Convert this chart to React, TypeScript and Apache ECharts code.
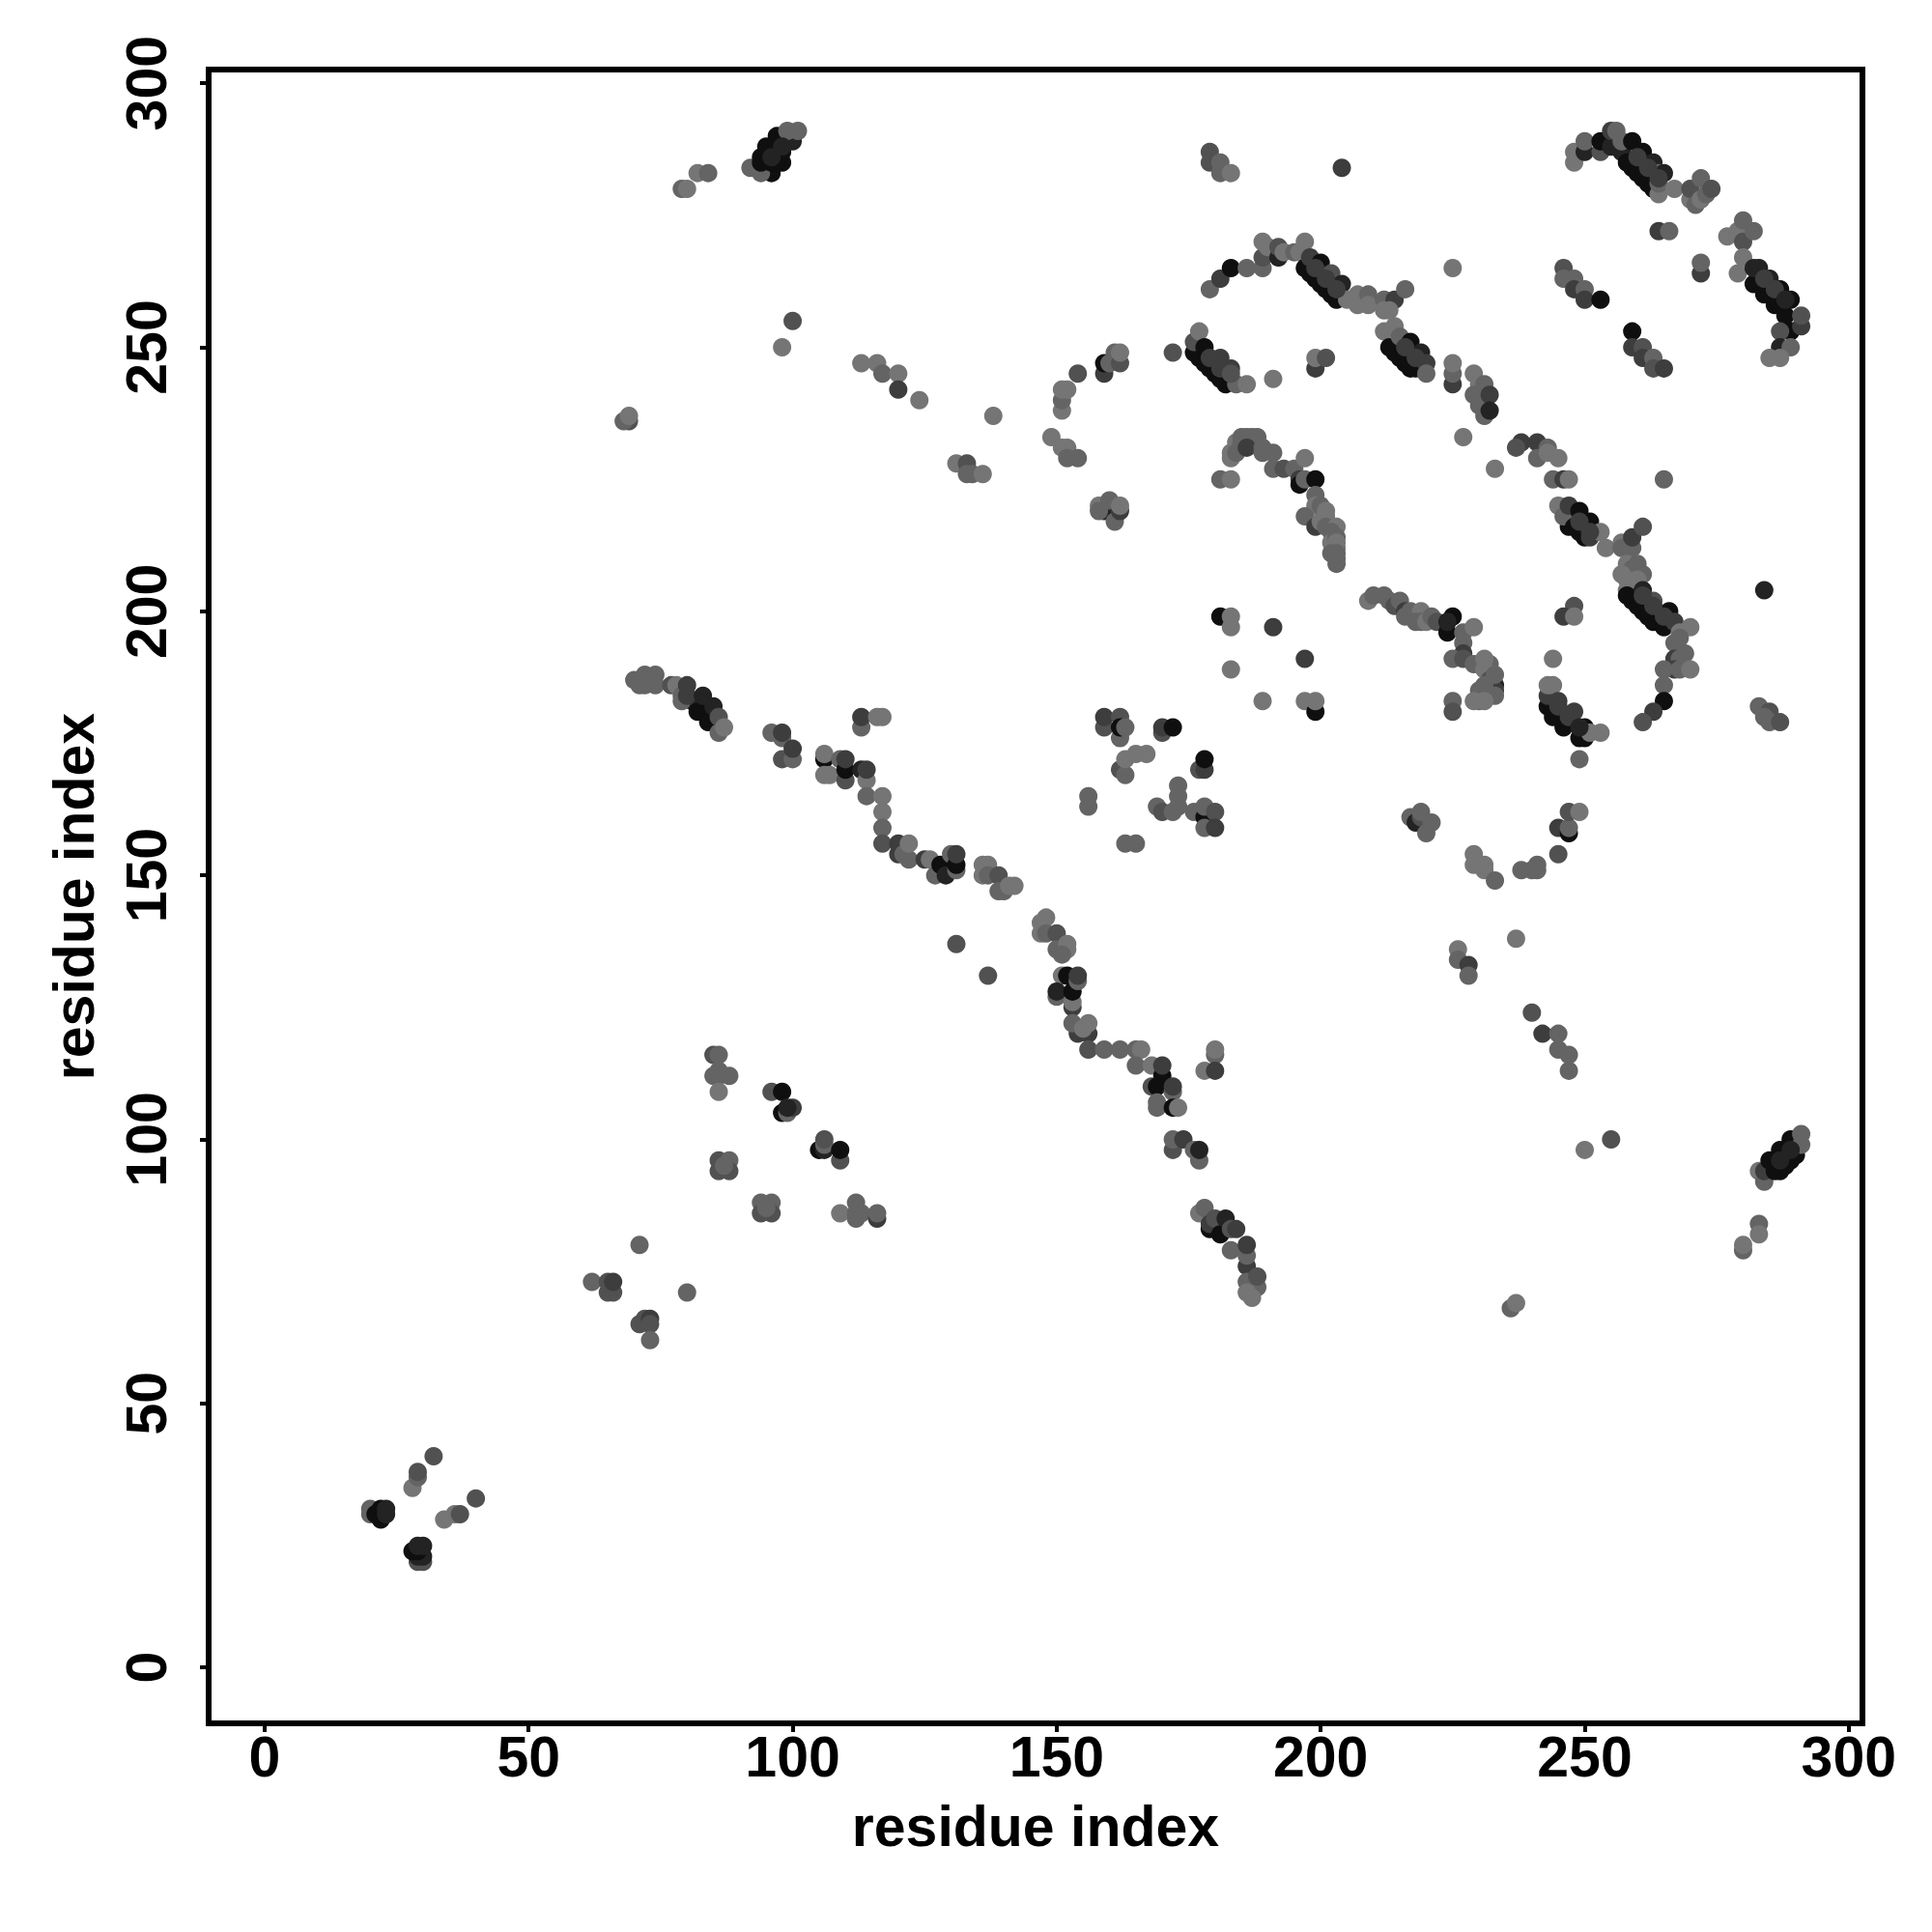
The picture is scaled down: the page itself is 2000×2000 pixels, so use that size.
import React, { useEffect, useRef } from "react";
import * as echarts from "echarts";

const tickValues = [0, 50, 100, 150, 200, 250, 300];
const axisTitle = "residue index";
const shades = ["#0f0f0f", "#232323", "#3d3d3d", "#515151", "#646464", "#757575"];

// [residue x, residue y, shade rank 1 (strongest) .. 6 (weakest)], in drawing order
const denseBandFill = [
  [259,284,1],[261,282,1],[263,280,1],[256,289,3],[257,287,2],
  [283,262,2],[285,260,1],[287,258,1],
  [198,264,1],[200,262,1],[202,260,1],
  [214,249,1],[216,247,1],[218,246,2],
  [177,248,1],[179,246,1],[181,244,1],
  [247,216,1],[249,215,1],
  [259,202,1],[261,200,1],[263,198,1],
  [250,176,1],[245,181,2],[247,179,2],
  [98,285,1],[96,283,1],
  [285,94,1],[287,94,1],[289,96,1],
  [81,183,2],[83,181,1],[85,180,3],
];
const nTerminal = [
  [20,30,5],[20,29,5],[21,29,1],[22,28,1],[22,30,1],[23,30,2],[23,29,2],
  [29,20,4],[30,20,4],[29,21,2],[30,21,2],[28,22,1],[29,22,1],[29,23,2],[30,23,2],
  [28,34,6],[29,36,5],[29,37,4],[32,40,4],[34,28,6],[36,29,6],[37,29,4],[40,32,4],
];
const lowerLeft = [
  [62,73,5],[65,71,4],[66,71,4],[65,73,4],[66,73,3],[71,80,5],[80,71,5],
  [71,65,4],[72,66,4],[73,66,3],[73,65,4],[73,62,5],
];
const block85 = [
  [85,116,4],[86,116,5],[85,112,5],[86,112,5],[88,112,5],[86,113,5],[86,109,6],
  [96,109,4],[98,109,1],[98,105,1],[99,105,5],[100,106,3],[99,106,2],
  [105,98,1],[106,98,2],[106,99,5],[106,100,4],[109,96,4],[109,98,1],
  [86,96,4],[88,96,5],[86,94,4],[88,94,4],[87,95,5],
  [94,88,5],[96,88,5],[94,86,4],[96,86,4],[95,87,5],
  [109,86,6],[112,88,5],[112,85,5],[112,86,5],[113,86,5],[116,85,3],[116,86,5],
];
const diagonalHigh = [
  [70,187,5],[71,186,5],[72,188,5],[74,188,5],[72,186,5],[73,187,5],[74,186,5],
  [77,186,4],[78,186,6],[79,183,5],[79,184,5],[82,181,1],[84,179,1],[80,184,3],[80,186,3],
  [83,184,2],[85,182,2],[86,177,5],[86,180,4],[87,178,6],
  [96,177,5],[98,176,5],[98,177,3],[98,172,4],[100,172,5],[100,174,3],
  [113,178,5],[113,180,3],[116,180,6],[117,180,6],
  [106,172,1],[106,173,6],[106,169,6],[107,169,6],[109,172,5],[110,168,4],[110,170,1],[110,172,3],
  [113,170,2],[114,168,6],[114,165,5],[114,170,3],[117,165,6],[117,162,6],[117,159,5],[117,156,4],
  [120,154,3],[120,156,3],[121,154,5],[122,153,5],[122,156,6],
  [125,153,3],[126,153,6],[127,150,5],[128,152,1],[129,150,2],[131,151,5],[130,154,5],[131,152,1],[131,154,3],
  [131,137,4],[137,131,4],
  [136,150,6],[136,152,6],[137,152,6],[137,150,5],[139,150,4],[139,147,5],[140,147,5],[141,148,6],[142,148,6],
  [147,139,6],[147,141,6],[148,142,6],[148,139,5],[150,139,4],[150,136,5],[152,136,6],[152,137,6],[151,135,5],
];
const diagonalLow = [
  [151,131,6],[152,131,1],[150,127,5],[150,128,2],[153,125,3],[153,126,6],[153,128,1],[154,130,5],[154,131,3],
  [154,120,3],[156,120,3],[153,122,5],[155,121,6],[156,122,6],
  [156,117,4],[159,117,5],[162,117,5],[165,117,5],[166,117,6],[165,114,5],[168,114,6],[170,112,1],[170,114,3],
  [168,110,4],[169,110,1],[172,109,5],[172,110,3],[169,106,5],[169,107,5],[172,106,1],[173,106,6],
  [172,98,4],[172,100,5],[174,100,3],[176,98,5],[177,96,5],[177,98,2],
  [180,116,5],[180,117,6],[178,113,6],[180,113,3],
  [177,86,6],[178,87,5],[179,83,1],[179,84,3],[180,85,4],[181,82,1],[183,79,5],[182,85,2],[183,83,4],[184,83,3],
  [186,76,3],[186,78,5],[186,80,3],[186,73,5],[188,72,5],[188,74,4],[186,71,6],[187,70,6],
];
const centerPatch = [
  [156,163,5],[156,165,5],[159,178,4],[159,180,3],[162,176,5],[162,180,4],[162,178,1],[163,178,5],
  [162,170,4],[163,169,5],[163,172,6],[165,173,6],[167,173,6],
  [170,177,4],[170,178,3],[172,178,1],[177,170,4],[178,170,3],[178,172,1],
  [173,165,5],[173,167,5],[169,163,5],[170,162,4],[172,162,5],[173,163,5],
  [176,162,5],[178,161,1],[178,163,5],[180,162,4],[178,159,5],[180,159,3],
  [163,156,5],[165,156,5],
];
const farLower = [
  [217,161,5],[218,160,2],[219,161,4],[219,162,5],[220,158,5],[221,160,5],
  [245,159,3],[247,158,1],[247,159,5],[247,162,4],[249,162,6],[245,154,4],
  [229,154,6],[229,152,6],[231,152,6],[231,151,6],[233,149,5],
  [238,151,5],[240,151,5],[241,152,5],[241,151,5],
  [237,138,6],[226,136,6],[226,134,5],[228,133,3],[228,131,5],
  [240,124,4],[242,120,3],[245,120,5],[245,117,5],[247,116,5],[247,113,5],
  [250,98,6],[255,100,4],[236,68,5],[237,69,6],
];
const cTerminal = [
  [283,94,6],[284,92,5],[284,94,3],[285,96,1],[286,94,1],[287,98,1],[288,95,1],[289,100,1],[290,97,1],[291,99,5],[291,101,5],
  [283,84,5],[283,82,6],[280,79,5],[280,80,6],
];
const topLeft = [
  [79,280,5],[80,280,6],[82,283,6],[84,283,5],
  [92,284,5],[94,283,5],[94,285,1],[94,286,1],[96,285,1],[95,288,1],[98,287,1],[97,290,1],[100,289,2],[99,291,5],[101,291,5],
  [100,255,4],[98,250,6],[113,247,6],[116,247,6],[117,245,5],[120,245,6],[120,242,3],[124,240,6],
  [138,237,6],[69,236,4],[68,236,5],[69,237,6],
  [131,228,6],[133,228,4],[133,226,5],[134,226,5],[136,226,6],
  [149,233,6],[151,231,6],[152,231,6],[152,229,5],[154,229,5],
  [151,238,6],[151,240,5],[151,242,6],[152,242,6],[154,245,4],
  [159,245,3],[159,247,1],[160,247,5],[161,249,5],[162,247,4],[162,249,6],
  [158,220,6],[159,219,2],[160,221,5],[158,219,5],[161,217,5],[162,219,3],[162,220,6],
];
const arcOne = [
  [179,287,4],[179,285,4],[181,285,5],[181,283,5],[183,283,6],[204,284,3],
  [179,261,5],[181,263,3],[183,265,1],[186,265,5],[189,265,5],[189,267,4],[189,270,6],[190,269,6],[192,267,2],[192,269,4],
  [193,268,6],[195,268,5],[196,268,6],[197,270,6],
  [197,265,1],[199,263,1],[201,261,1],[203,259,1],[198,267,3],[200,266,1],[202,264,4],[204,262,2],
  [205,259,6],[207,260,6],[207,258,6],[209,260,5],[209,258,6],[212,259,5],[212,257,6],[214,259,3],[216,261,5],[213,257,6],
];
const helixBand = [
  [212,253,6],[214,254,6],[213,250,1],[215,248,1],[217,246,1],[215,252,5],[217,251,1],[219,249,2],[220,247,3],[220,245,5],
  [225,243,3],[225,245,5],[225,247,6],[225,265,6],
  [229,245,6],[230,243,6],[229,241,5],[231,243,5],[231,237,5],[230,239,5],[232,241,3],[232,238,2],
  [227,233,6],[233,227,6],
];
const bandLeft = [
  [176,249,1],[178,247,1],[180,245,1],[182,243,1],[176,251,4],[177,253,6],[178,250,1],[181,248,3],[183,246,3],[184,243,5],[186,243,6],[191,244,6],
  [172,249,4],[199,246,3],[199,248,6],[201,248,4],
];
const bandMiddle = [
  [183,229,6],[183,230,6],[184,232,6],[185,232,5],[184,230,5],[186,233,5],[187,232,6],[185,233,5],[187,233,5],[188,233,5],[186,231,3],[189,231,5],[189,230,5],[191,230,5],[191,227,5],[193,227,4],[195,227,5],
  [197,229,6],[196,225,3],[196,224,1],[197,225,5],[199,225,1],[181,225,5],[183,225,6],
  [199,222,5],[199,220,6],[200,220,5],[201,219,6],[197,218,5],[199,216,3],[200,217,6],[201,218,6],[201,216,5],[203,216,6],[202,215,5],[202,213,6],[203,214,5],[203,213,6],[203,212,6],[202,211,5],[203,210,5],[203,209,5],[203,211,5],
];
const bandUpperRight = [
  [238,232,3],[237,231,4],[241,232,3],[243,231,5],[241,229,5],[243,230,6],[245,229,6],
  [244,225,5],[246,225,3],[247,225,6],
  [245,220,6],[246,218,5],[248,216,1],[250,214,1],[247,220,3],[249,219,1],[251,217,1],[251,214,3],[253,215,6],[254,212,6],
  [257,213,6],[257,212,5],[259,212,5],[259,214,3],[261,216,4],
  [258,209,6],[259,208,5],[260,209,5],[257,207,6],[261,207,5],[258,206,6],[260,206,6],[259,205,6],[258,204,6],[258,203,1],[260,201,1],[262,199,1],[265,197,1],
  [261,204,2],[263,202,4],[266,200,1],[267,198,3],[268,196,6],[270,197,6],[268,195,5],
  [267,194,5],[269,192,5],[267,191,3],[268,191,5],[267,189,3],[265,189,5],[268,189,5],[270,189,6],[265,186,5],[265,183,1],[263,181,3],[261,179,4],
];
const bandLowerMiddle = [
  [209,202,6],[210,203,5],[212,203,5],[213,202,5],[214,201,4],[215,202,5],[216,200,3],[216,199,5],[217,200,5],[219,200,6],[218,198,5],[219,198,5],[220,198,6],[221,199,5],[222,198,4],
  [224,196,1],[225,199,1],[224,198,2],[227,196,5],[229,197,6],[227,194,5],[227,192,3],[225,191,5],[227,191,4],[229,190,5],
  [232,190,5],[231,191,6],[231,189,6],[232,187,4],[233,186,2],[233,185,3],[233,188,5],[232,184,4],[233,184,5],[231,186,5],[230,185,5],[230,183,5],[229,183,6],[231,183,6],[225,183,5],[225,181,4],
  [181,199,1],[183,199,6],[183,197,6],[191,197,3],[197,191,3],[183,189,6],[189,183,6],[197,183,6],[199,181,1],[199,183,6],
];
const bandLowerRight = [
  [248,201,4],[246,199,3],[248,199,6],[244,191,6],
  [243,182,1],[243,184,3],[244,180,1],[243,186,6],[244,186,6],[245,183,3],[246,178,1],[248,181,3],[249,176,1],[250,178,1],
  [251,177,6],[253,177,6],[249,172,5],
  [284,204,2],[283,182,5],[285,181,4],[284,180,5],[285,179,5],[287,179,4],
  [265,225,5],
];
const topRight = [
  [248,285,6],[248,287,6],[250,287,2],[250,289,5],[253,287,4],[253,289,1],[255,288,2],[255,291,3],[256,291,5],[257,289,5],
  [258,285,1],[260,283,1],[262,281,1],[259,289,1],[261,287,1],[263,285,2],[264,279,6],[264,281,5],[264,283,5],[265,283,2],
  [267,280,6],[270,278,6],[270,280,4],[271,277,5],[272,278,6],[272,282,5],[273,279,5],[274,280,4],
  [264,272,3],[266,272,5],[272,264,3],[272,266,5],
  [246,265,4],[246,263,5],[248,263,5],[248,261,3],[250,261,5],[250,259,3],[253,259,1],
  [259,253,1],[259,250,3],[261,250,4],[261,248,3],[263,248,5],[263,246,4],[265,246,3],
  [277,271,6],[279,272,6],[280,270,4],[282,272,5],[280,274,5],[280,267,6],[279,264,6],
  [282,262,1],[284,260,1],[286,258,1],[288,256,1],[282,265,2],[283,265,2],[285,263,2],[287,261,1],[289,259,1],
  [289,253,1],[287,253,4],[291,254,3],[291,256,4],[287,250,2],[289,250,5],[285,248,6],[287,248,6],
];
const bandCrest = [
  [199,265,3],[201,263,3],[203,261,3],
  [179,248,3],[181,246,3],[183,245,4],
  [260,286,3],[262,284,3],[264,282,3],
  [284,263,3],[286,261,3],[288,259,2],
  [216,250,3],[218,248,3],
  [249,217,3],[251,215,3],
  [261,203,3],[263,201,3],[265,199,3],
  [245,182,3],[247,180,3],[249,178,2],
  [96,286,2],[98,288,2],
  [287,96,2],[289,98,2],
];

const contacts = [
  denseBandFill, nTerminal, lowerLeft, block85, diagonalHigh, diagonalLow, centerPatch, farLower, cTerminal,
  topLeft, arcOne, helixBand, bandLeft, bandMiddle, bandUpperRight, bandLowerMiddle, bandLowerRight, topRight, bandCrest,
].flat();

const FONT = "Liberation Sans";

export default function App() {
  const ref = useRef<HTMLDivElement>(null);
  useEffect(() => {
    const chart = echarts.init(ref.current!, undefined, { renderer: "svg" });
    const axisBase = {
      type: "value",
      min: -10.6,
      max: 302.6,
      splitLine: { show: false },
      axisLine: { show: false, onZero: false },
      axisTick: { show: true, customValues: tickValues, length: 9, lineStyle: { color: "#000", width: 4 } },
      name: axisTitle,
      nameLocation: "middle",
      nameTextStyle: { fontFamily: FONT, fontWeight: "bold", fontSize: 59, color: "#000" },
    };
    const labelBase = { customValues: tickValues, fontFamily: FONT, fontWeight: "bold", fontSize: 59, color: "#000", showMinLabel: true, showMaxLabel: true };
    chart.setOption({
      animation: false,
      backgroundColor: "#fff",
      grid: { left: 216, right: 72, top: 72, bottom: 216, show: true, borderColor: "#000", borderWidth: 6, backgroundColor: "transparent" },
      xAxis: { ...axisBase, nameGap: 77, axisLabel: { ...labelBase, margin: 5 } },
      yAxis: { ...axisBase, nameGap: 110, axisLabel: { ...labelBase, rotate: 90, margin: 35 } },
      series: [
        {
          type: "scatter",
          symbol: "circle",
          symbolSize: 19,
          progressive: 0,
          data: contacts,
          itemStyle: { color: (p: any) => shades[p.data[2] - 1], opacity: 1 },
        },
      ],
    });
    return () => chart.dispose();
  }, []);
  return <div ref={ref} style={{ position: "absolute", left: 0, top: 0, width: 2000, height: 2000 }} />;
}
